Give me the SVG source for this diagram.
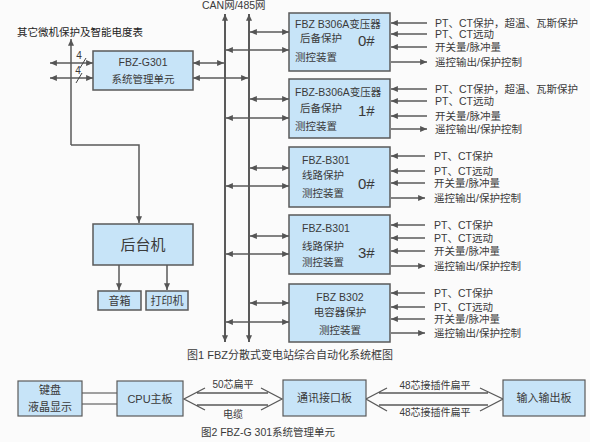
<svg xmlns="http://www.w3.org/2000/svg" width="590" height="442" viewBox="0 0 590 442">
<defs>
<marker id="a" viewBox="0 0 8 7" refX="8" refY="3.5" markerWidth="7" markerHeight="6" markerUnits="userSpaceOnUse" orient="auto-start-reverse"><path d="M0,0 L8,3.5 L0,7 z" fill="#555"/></marker>
</defs>
<style>
.bg{fill:#fbfbfb}
.box{fill:#c7e4f8;stroke:#5a5a5a;stroke-width:1.5}
.box2{fill:#c7e4f8;stroke:#5a5a5a;stroke-width:1.2}
.ln{stroke:#5a5a5a;stroke-width:1.5;fill:none}
.bus{stroke:#5a5a5a;stroke-width:2;fill:none}
.dbl{stroke:#5a5a5a;stroke-width:1.5;fill:none;marker-start:url(#a);marker-end:url(#a)}
.one{stroke:#5a5a5a;stroke-width:1.5;fill:none;marker-end:url(#a)}
.thin{stroke:#444;stroke-width:1;fill:none}
text{font-family:"Liberation Sans","Noto Sans CJK SC",sans-serif;fill:#3a3a3a;font-size:10.5px}
.c{text-anchor:middle}
.big{font-size:15px}
.num{font-size:15px}
.s{font-size:11px}
</style>
<rect class="bg" x="0" y="0" width="590" height="442"/>

<g id="connectors">
<!-- buses -->
<line class="bus" x1="225" y1="14" x2="225" y2="342" marker-start="url(#a)" marker-end="url(#a)"/>
<line class="bus" x1="249" y1="14" x2="249" y2="342" marker-start="url(#a)" marker-end="url(#a)"/>
<!-- bus to boxes -->
<line class="dbl" x1="250" y1="32" x2="289" y2="32"/>
<line class="dbl" x1="226" y1="50" x2="289" y2="50"/>
<line class="dbl" x1="250" y1="99" x2="289" y2="99"/>
<line class="dbl" x1="226" y1="118" x2="289" y2="118"/>
<line class="dbl" x1="250" y1="168" x2="289" y2="168"/>
<line class="dbl" x1="226" y1="186" x2="289" y2="186"/>
<line class="dbl" x1="250" y1="236" x2="289" y2="236"/>
<line class="dbl" x1="226" y1="254" x2="289" y2="254"/>
<line class="dbl" x1="250" y1="303" x2="289" y2="303"/>
<line class="dbl" x1="226" y1="322" x2="289" y2="322"/>
<!-- G301 to buses -->
<line class="dbl" x1="193" y1="63" x2="224" y2="63"/>
<line class="dbl" x1="193" y1="78" x2="248" y2="78"/>
<!-- left of G301 -->
<line class="dbl" x1="50" y1="63" x2="93" y2="63"/>
<line class="dbl" x1="50" y1="78" x2="93" y2="78"/>
<line class="one" x1="71" y1="145" x2="71" y2="39"/>
<line class="thin" x1="80" y1="68" x2="86" y2="58"/>
<line class="thin" x1="76" y1="83" x2="82" y2="73"/>
<path class="one" d="M71,145 H139 V223"/>
<!-- backend to peripherals -->
<line class="one" x1="119" y1="265" x2="119" y2="290"/>
<line class="one" x1="167" y1="265" x2="167" y2="290"/>
<!-- right side signals -->
<g>
<line class="one" x1="427" y1="23" x2="391" y2="23"/>
<line class="one" x1="427" y1="34" x2="391" y2="34"/>
<line class="one" x1="427" y1="47" x2="391" y2="47"/>
<line class="one" x1="391" y1="62" x2="427" y2="62"/>
<line class="one" x1="427" y1="89" x2="391" y2="89"/>
<line class="one" x1="427" y1="101" x2="391" y2="101"/>
<line class="one" x1="427" y1="116" x2="391" y2="116"/>
<line class="one" x1="391" y1="129" x2="427" y2="129"/>
<line class="one" x1="425" y1="156" x2="391" y2="156"/>
<line class="one" x1="425" y1="171" x2="391" y2="171"/>
<line class="one" x1="425" y1="183" x2="391" y2="183"/>
<line class="one" x1="391" y1="198" x2="425" y2="198"/>
<line class="one" x1="425" y1="225" x2="391" y2="225"/>
<line class="one" x1="425" y1="238" x2="391" y2="238"/>
<line class="one" x1="425" y1="251" x2="391" y2="251"/>
<line class="one" x1="391" y1="266" x2="425" y2="266"/>
<line class="one" x1="425" y1="293" x2="391" y2="293"/>
<line class="one" x1="425" y1="307" x2="391" y2="307"/>
<line class="one" x1="425" y1="319" x2="391" y2="319"/>
<line class="one" x1="391" y1="333" x2="425" y2="333"/>
</g>
<!-- bottom figure -->
<line class="thin" x1="82" y1="393" x2="117" y2="393"/>
<line class="thin" x1="82" y1="404" x2="117" y2="404"/>
<path class="ln" d="M205,388 L184,399 L205,410 M197,393 H268 M197,405 H268 M261,388 L282,399 L261,410" style="stroke-width:1.3"/>
<path class="ln" d="M387,388 L366,399 L387,411 M379,393 H488 M379,405 H488 M480,388 L503,399 L480,411" style="stroke-width:1.3"/>
</g>

<text x="202" y="9" style="font-size:10.5px">CAN网/485网</text>
<text x="17" y="36" style="font-size:10.5px;fill:#222">其它微机保护及智能电度表</text>
<text x="79" y="59" class="c" style="font-size:10px">4</text>
<text x="78" y="74" class="c" style="font-size:10px">4</text>

<g id="g301">
<rect class="box" x="93" y="51" width="100" height="39"/>
<text x="143" y="66" class="c">FBZ-G301</text>
<text x="143" y="83" class="c">系统管理单元</text>
</g>

<g id="houtaiji">
<rect class="box" x="93" y="224" width="100" height="41"/>
<text x="143" y="250" class="c big">后台机</text>
</g>
<g id="yinxiang">
<rect class="box" x="98" y="291" width="43" height="19"/>
<text x="119.5" y="305" class="c s">音箱</text>
</g>
<g id="dayinji">
<rect class="box" x="146" y="291" width="42" height="19"/>
<text x="167" y="305" class="c s">打印机</text>
</g>

<g id="b306a-0">
<rect class="box" x="289" y="13" width="101" height="58"/>
<text x="295" y="28">FBZ  B306A变压器</text>
<text x="300" y="42">后备保护</text>
<text x="358" y="46" class="num">0#</text>
<text x="295" y="61">测控装置</text>
</g>
<g id="b306a-1">
<rect class="box" x="289" y="79" width="101" height="59"/>
<text x="295" y="96">FBZ-B306A变压器</text>
<text x="300" y="112">后备保护</text>
<text x="358" y="116" class="num">1#</text>
<text x="295" y="130">测控装置</text>
</g>
<g id="b301-0">
<rect class="box" x="289" y="147" width="101" height="60"/>
<text x="302" y="164">FBZ-B301</text>
<text x="302" y="179">线路保护</text>
<text x="358" y="189" class="num">0#</text>
<text x="302" y="197">测控装置</text>
</g>
<g id="b301-3">
<rect class="box" x="289" y="215" width="101" height="59"/>
<text x="302" y="232">FBZ-B301</text>
<text x="302" y="250">线路保护</text>
<text x="358" y="258" class="num">3#</text>
<text x="302" y="266">测控装置</text>
</g>
<g id="b302">
<rect class="box" x="289" y="284" width="101" height="58"/>
<text x="340" y="301" class="c">FBZ  B302</text>
<text x="340" y="316" class="c">电容器保护</text>
<text x="340" y="334" class="c">测控装置</text>
</g>

<g id="signals">
<text x="435" y="27">PT、CT保护，超温、瓦斯保护</text>
<text x="435" y="38">PT、CT远动</text>
<text x="435" y="51">开关量/脉冲量</text>
<text x="435" y="66">遥控输出/保护控制</text>
<text x="435" y="93">PT、CT保护，超温、瓦斯保护</text>
<text x="435" y="105">PT、CT远动</text>
<text x="435" y="120">开关量/脉冲量</text>
<text x="435" y="133">遥控输出/保护控制</text>
<text x="434" y="160">PT、CT保护</text>
<text x="434" y="175">PT、CT远动</text>
<text x="434" y="187">开关量/脉冲量</text>
<text x="434" y="202">遥控输出/保护控制</text>
<text x="434" y="229">PT、CT保护</text>
<text x="434" y="242">PT、CT远动</text>
<text x="434" y="255">开关量/脉冲量</text>
<text x="434" y="270">遥控输出/保护控制</text>
<text x="434" y="297">PT、CT保护</text>
<text x="434" y="311">PT、CT远动</text>
<text x="434" y="323">开关量/脉冲量</text>
<text x="434" y="337">遥控输出/保护控制</text>
</g>

<text x="187" y="359" style="font-size:11px">图1  FBZ分散式变电站综合自动化系统框图</text>

<g id="jianpan">
<rect class="box2" x="18" y="381" width="64" height="35"/>
<text x="50" y="394" class="c s">键盘</text>
<text x="50" y="411" class="c s">液晶显示</text>
</g>
<g id="cpu">
<rect class="box2" x="117" y="381" width="66" height="35"/>
<text x="150" y="403" class="c s">CPU主板</text>
</g>
<g id="tongxun">
<rect class="box2" x="283" y="380" width="83" height="36"/>
<text x="324.5" y="402" class="c s">通讯接口板</text>
</g>
<g id="shuru">
<rect class="box2" x="503" y="380" width="82" height="36"/>
<text x="544" y="402" class="c s">输入输出板</text>
</g>
<text x="233" y="388" class="c" style="font-size:10px">50芯扁平</text>
<text x="233" y="418" class="c" style="font-size:10px">电缆</text>
<text x="435" y="389" class="c" style="font-size:10px">48芯接插件扁平</text>
<text x="435" y="416" class="c" style="font-size:10px">48芯接插件扁平</text>
<text x="268" y="436" class="c" style="font-size:10.5px">图2  FBZ-G 301系统管理单元</text>
</svg>
